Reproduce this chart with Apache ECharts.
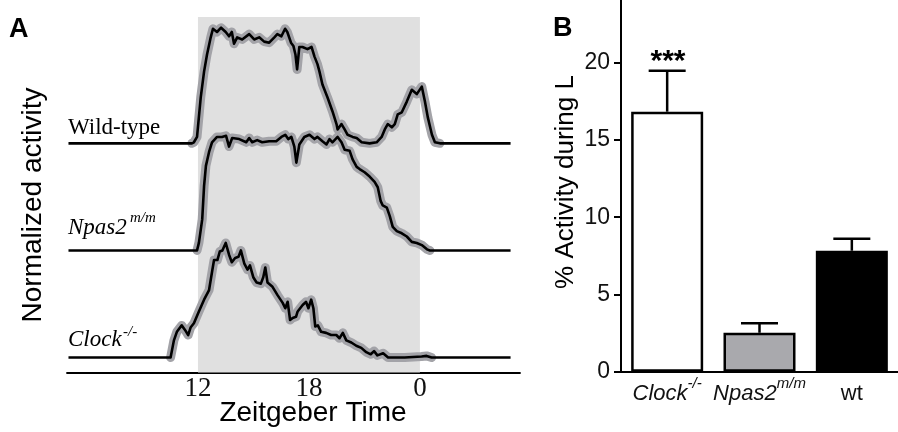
<!DOCTYPE html>
<html><head><meta charset="utf-8">
<script src="https://cdn.jsdelivr.net/npm/echarts@6/dist/echarts.min.js"></script>
<style>html,body{margin:0;padding:0;background:#fff}#c{width:898px;height:432px}</style>
</head><body><div id="c"></div>
<script>
// ---- Panel A data (Zeitgeber time in hours, 24 = ZT0 next day; normalized activity) ----
const wildTime = [5.0, 11.67, 11.78, 11.95, 12.15, 12.33, 12.49, 12.69, 12.81, 13.03, 13.25, 13.50, 13.68, 13.83, 13.95, 14.12, 14.39, 14.77, 15.04, 15.31, 15.58, 15.85, 16.13, 16.29, 16.51, 16.71, 16.83, 17.03, 17.16, 17.27, 17.36, 17.48, 17.65, 17.92, 18.14, 18.30, 18.46, 18.57, 18.73, 19.00, 19.27, 19.49, 19.55, 19.76, 19.93, 20.09, 20.36, 20.58, 20.85, 21.28, 21.66, 21.93, 22.10, 22.26, 22.48, 22.64, 22.80, 23.02, 23.29, 23.56, 23.83, 24.10, 24.27, 24.43, 24.65, 24.81, 25.08, 28.9];
const wildActivity = [0, 0, 0.01, 0.06, 0.43, 0.67, 0.83, 0.99, 1.07, 1.04, 1.08, 1.04, 1.00, 1.04, 0.93, 0.99, 0.97, 1.02, 0.97, 0.99, 0.95, 0.94, 0.99, 1.02, 1.00, 1.07, 1.04, 0.94, 0.91, 0.83, 0.69, 0.90, 0.90, 0.88, 0.90, 0.81, 0.74, 0.67, 0.55, 0.43, 0.30, 0.18, 0.13, 0.18, 0.13, 0.08, 0.06, 0.05, 0.01, 0, 0.01, 0.06, 0.13, 0.18, 0.15, 0.18, 0.27, 0.29, 0.39, 0.50, 0.46, 0.53, 0.39, 0.24, 0.08, 0.01, 0, 0];

const npasTime = [5.0, 11.95, 12.05, 12.23, 12.33, 12.43, 12.60, 12.76, 13.03, 13.30, 13.52, 13.68, 13.85, 14.23, 14.61, 14.77, 14.93, 15.20, 15.47, 15.85, 16.23, 16.51, 16.72, 16.88, 17.05, 17.21, 17.32, 17.48, 17.75, 18.03, 18.30, 18.46, 18.73, 18.95, 19.11, 19.27, 19.55, 19.76, 19.93, 20.20, 20.36, 20.58, 20.74, 21.01, 21.28, 21.55, 21.72, 21.88, 21.99, 22.21, 22.37, 22.53, 22.75, 23.02, 23.29, 23.56, 23.83, 24.10, 24.38, 24.54, 28.9];
const npasActivity = [0, 0, 0.07, 0.29, 0.60, 0.79, 0.92, 1.01, 1.06, 1.06, 1.07, 0.97, 1.05, 1.04, 1.01, 1.05, 1.01, 1.03, 1.01, 1.02, 1.02, 1.06, 1.08, 1.04, 1.06, 0.97, 0.82, 0.99, 1.06, 1.08, 1.04, 1.06, 1.02, 0.99, 1.04, 1.01, 1.06, 1.01, 0.94, 0.93, 0.85, 0.78, 0.76, 0.73, 0.69, 0.64, 0.59, 0.46, 0.42, 0.40, 0.32, 0.22, 0.18, 0.16, 0.13, 0.08, 0.07, 0.05, 0.01, 0, 0];

const clockTime = [5.0, 10.52, 10.70, 10.86, 11.12, 11.29, 11.47, 11.60, 11.78, 12.05, 12.33, 12.60, 12.78, 12.87, 13.05, 13.18, 13.32, 13.50, 13.68, 13.83, 14.01, 14.19, 14.32, 14.50, 14.68, 14.81, 14.99, 15.17, 15.40, 15.53, 15.64, 15.76, 16.03, 16.31, 16.58, 16.72, 16.85, 16.98, 17.12, 17.30, 17.39, 17.66, 17.84, 17.97, 18.12, 18.24, 18.34, 18.48, 18.66, 18.93, 19.20, 19.48, 19.65, 19.83, 20.02, 20.29, 20.56, 20.83, 21.10, 21.34, 21.52, 21.70, 22.01, 22.28, 23.18, 24.09, 24.36, 24.63, 28.9];
const clockActivity = [0, 0, 0.16, 0.24, 0.30, 0.26, 0.21, 0.28, 0.32, 0.43, 0.54, 0.63, 0.82, 0.91, 0.91, 0.99, 1.00, 1.07, 0.96, 0.89, 0.93, 0.94, 1.00, 0.88, 0.82, 0.86, 0.75, 0.70, 0.69, 0.75, 0.84, 0.70, 0.66, 0.58, 0.51, 0.46, 0.52, 0.35, 0.37, 0.38, 0.43, 0.49, 0.52, 0.46, 0.54, 0.46, 0.29, 0.30, 0.24, 0.23, 0.21, 0.21, 0.18, 0.23, 0.16, 0.14, 0.11, 0.09, 0.05, 0.03, 0.06, 0.02, 0.04, 0, 0, 0.01, 0.015, 0, 0];

const darkStart = 12, darkEnd = 24;
const ztTickValues = [12, 18, 24];
const ztTickLabels = ['12', '18', '0'];

// ---- Panel B data ----
const barNames = ['Clock', 'Npas2', 'wt'];
const barSups = ['-/-', 'm/m', ''];
const barItalic = [true, true, false];
const barMeans = [16.83, 2.52, 7.83];
const barSEM = [2.65, 0.61, 0.78];
const pctTicks = [0, 5, 10, 15, 20];

// ---- build ----
function pairs(t, v, off) { return t.map((x, i) => [x, v[i] + off]); }
// SEM band drawn only where the animal is active (value or a neighbour > 0)
function bandPairs(t, v, off) {
  return t.map((x, i) => {
    const act = v[i] > 0 || (i > 0 && v[i - 1] > 0) || (i < v.length - 1 && v[i + 1] > 0);
    return act ? [x, v[i] + off] : [x, null];
  });
}
const traces = [
  {t: wildTime, v: wildActivity, off: 2},
  {t: npasTime, v: npasActivity, off: 1},
  {t: clockTime, v: clockActivity, off: 0}
];
const series = [{
  type: 'line', xAxisIndex: 0, yAxisIndex: 0, data: [], z: 1, silent: true,
  markArea: {silent: true, itemStyle: {color: '#e0e0e0', opacity: 1},
    data: [[{xAxis: darkStart}, {xAxis: darkEnd}]]}
}];
traces.forEach(tr => {
  series.push({type: 'line', xAxisIndex: 0, yAxisIndex: 0, data: bandPairs(tr.t, tr.v, tr.off), showSymbol: false, z: 2,
    connectNulls: false, lineStyle: {color: '#a3a3a8', width: 9, join: 'round', cap: 'round'}, silent: true});
  series.push({type: 'line', xAxisIndex: 0, yAxisIndex: 0, data: pairs(tr.t, tr.v, tr.off), showSymbol: false, z: 3,
    lineStyle: {color: '#000', width: 2.6, join: 'round'}, silent: true});
});
const barColors = ['#ffffff', '#a9a9ad', '#000000'];
series.push({
  type: 'bar', xAxisIndex: 1, yAxisIndex: 1, barWidth: 72, z: 3,
  data: barMeans.map((m, i) => ({value: m, itemStyle: {color: barColors[i], borderColor: '#000', borderWidth: 2.5}}))
});
series.push({
  type: 'custom', xAxisIndex: 1, yAxisIndex: 1, z: 2,
  data: barMeans.map((m, i) => [i, m, barSEM[i]]),
  encode: {x: 0, y: 1},
  renderItem: function (params, api) {
    const i = api.value(0), m = api.value(1), e = api.value(2);
    const b = api.coord([i, m]), t = api.coord([i, m + e]);
    const hw = 18.5;
    return {type: 'group', children: [
      {type: 'line', shape: {x1: b[0], y1: b[1], x2: t[0], y2: t[1]}, style: {stroke: '#000', lineWidth: 2.5}},
      {type: 'line', shape: {x1: t[0] - hw, y1: t[1], x2: t[0] + hw, y2: t[1]}, style: {stroke: '#000', lineWidth: 2.5}}
    ]};
  }
});

const sans = 'Liberation Sans, Arial, sans-serif';
const serif = 'Liberation Serif, Times New Roman, serif';
const chart = echarts.init(document.getElementById('c'), null, {renderer: 'canvas'});
chart.setOption({
  animation: false,
  backgroundColor: '#fff',
  grid: [
    {left: 67, right: 378, top: 17, bottom: 59.5},
    {left: 621, right: -5, top: 0, bottom: 60.3}
  ],
  xAxis: [{
    type: 'value', gridIndex: 0, min: 4.92, max: 29.41,
    axisLine: {show: true, onZero: false, lineStyle: {color: '#000', width: 1.8}},
    axisTick: {show: false},
    splitLine: {show: false},
    axisLabel: {customValues: ztTickValues, fontFamily: serif, fontSize: 27, color: '#111', margin: 3,
      formatter: v => ztTickLabels[ztTickValues.indexOf(v)]}
  }, {
    type: 'category', gridIndex: 1, data: barNames,
    axisLine: {show: true, lineStyle: {color: '#000', width: 2}},
    axisTick: {show: false},
    axisLabel: {margin: 5, interval: 0, color: '#111',
      formatter: (v, i) => '{' + (barItalic[i] ? 'n' : 'r') + '|' + v + '}' + (barSups[i] ? '{s|' + barSups[i] + '}' : ''),
      rich: {
        n: {fontFamily: sans, fontSize: 22, fontStyle: 'italic', color: '#111', lineHeight: 28, verticalAlign: 'bottom'},
        r: {fontFamily: sans, fontSize: 22, color: '#111', lineHeight: 28, verticalAlign: 'bottom'},
        s: {fontFamily: sans, fontSize: 15, fontStyle: 'italic', color: '#111', lineHeight: 28, verticalAlign: 'top'}
      }}
  }],
  yAxis: [{
    type: 'value', gridIndex: 0, min: -0.14, max: 3.18, show: false
  }, {
    type: 'value', gridIndex: 1, min: 0, max: 24.06,
    axisLine: {show: true, lineStyle: {color: '#000', width: 2}},
    axisTick: {show: true, length: 7, customValues: pctTicks, lineStyle: {color: '#000', width: 2}},
    splitLine: {show: false},
    axisLabel: {customValues: pctTicks, fontFamily: sans, fontSize: 23, color: '#111', margin: 11}
  }],
  series: series,
  graphic: [
    {type: 'text', left: 9, top: 16, style: {text: 'A', font: 'bold 27px ' + sans, fill: '#000'}},
    {type: 'text', x: 33, y: 205, rotation: Math.PI / 2, style: {text: 'Normalized activity', font: '28px ' + sans, fill: '#000', textAlign: 'center', textVerticalAlign: 'middle'}},
    {type: 'text', x: 68, y: 128, style: {text: 'Wild-type', font: '23px ' + serif, fill: '#000', textVerticalAlign: 'middle'}},
    {type: 'text', x: 68, y: 228, style: {text: 'Npas2', font: 'italic 23px ' + serif, fill: '#000', textVerticalAlign: 'middle'}},
    {type: 'text', x: 130, y: 218, style: {text: 'm/m', font: 'italic 15px ' + serif, fill: '#000', textVerticalAlign: 'middle'}},
    {type: 'text', x: 68, y: 340, style: {text: 'Clock', font: 'italic 23px ' + serif, fill: '#000', textVerticalAlign: 'middle'}},
    {type: 'text', x: 123, y: 332, style: {text: '-/-', font: 'italic 15px ' + serif, fill: '#000', textVerticalAlign: 'middle'}},
    {type: 'text', x: 313, y: 413, style: {text: 'Zeitgeber Time', font: '28px ' + sans, fill: '#000', textAlign: 'center', textVerticalAlign: 'middle'}},
    {type: 'text', left: 553, top: 15, style: {text: 'B', font: 'bold 27px ' + sans, fill: '#000'}},
    {type: 'text', x: 566, y: 182, rotation: Math.PI / 2, style: {text: '% Activity during L', font: '26px ' + sans, fill: '#000', textAlign: 'center', textVerticalAlign: 'middle'}},
    {type: 'text', x: 668, y: 62, style: {text: '***', font: 'bold 30px ' + sans, fill: '#000', textAlign: 'center', textVerticalAlign: 'middle'}}
  ]
});
</script>
</body></html>
